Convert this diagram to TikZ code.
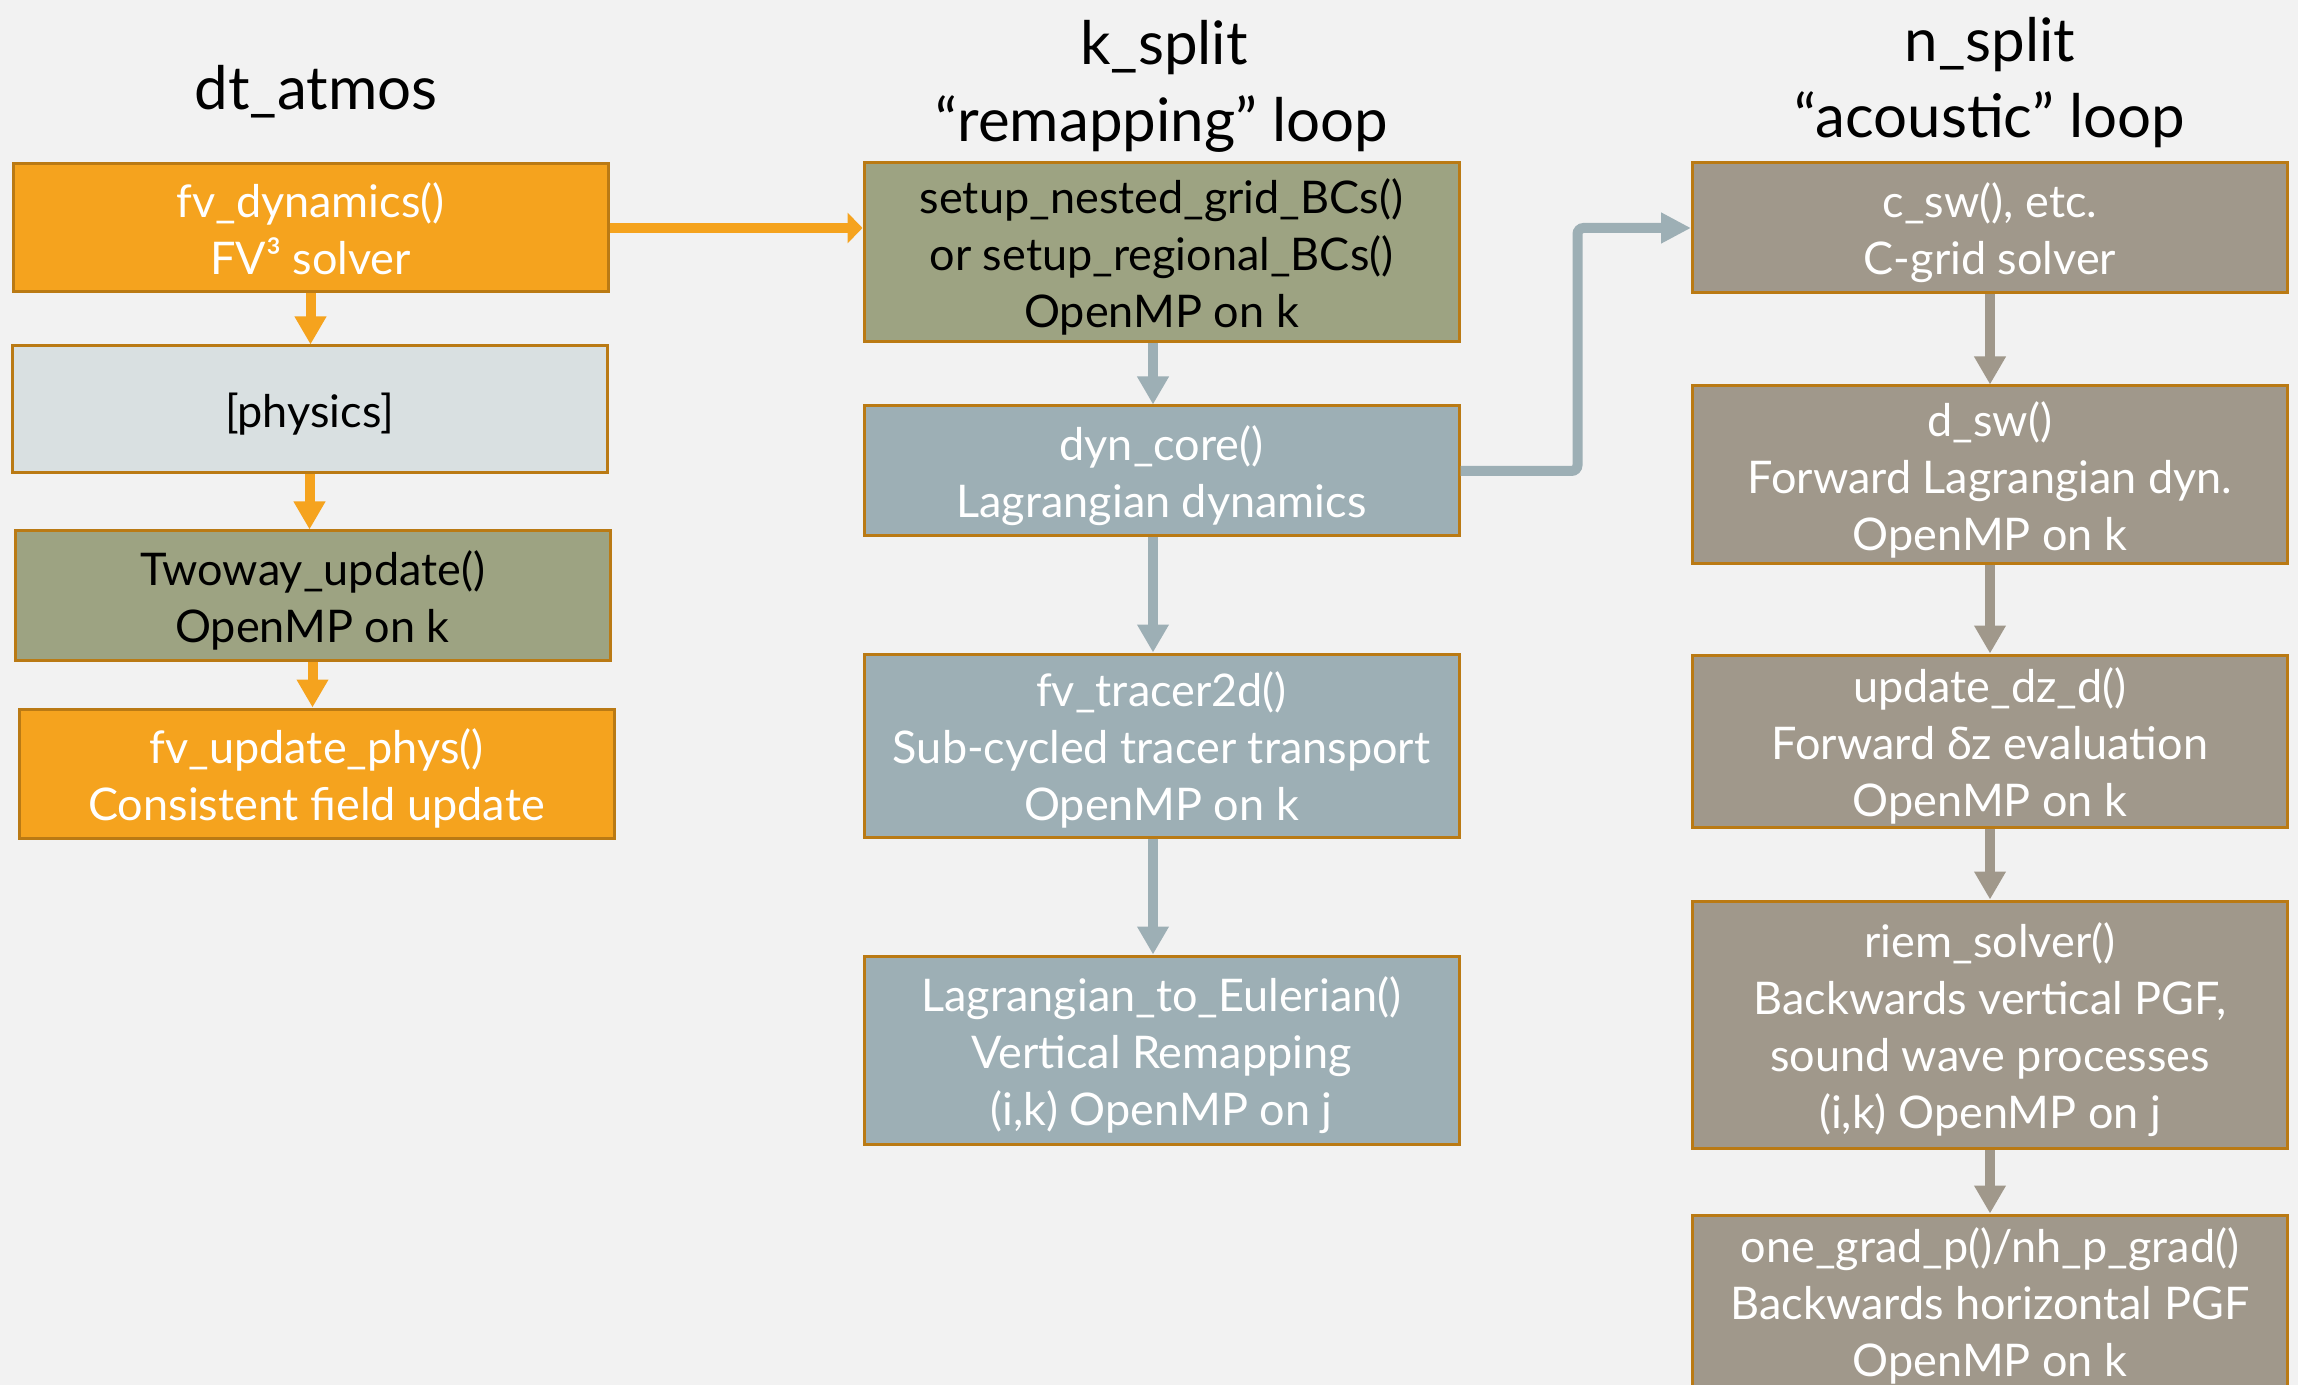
\documentclass[tikz,border=0pt]{standalone}
\usepackage{fontspec}
\setmainfont{Lato}
\usetikzlibrary{arrows.meta}
\definecolor{bg}{HTML}{F2F2F2}
\definecolor{orng}{HTML}{F5A31E}
\definecolor{bord}{HTML}{BA7A14}
\definecolor{phys}{HTML}{D9E0E1}
\definecolor{olive}{HTML}{9DA382}
\definecolor{bgrey}{HTML}{9DAFB5}
\definecolor{taupe}{HTML}{A0988B}
\newcommand\boxtext[1]{\raisebox{-8.5pt}[0pt][0pt]{\begin{tabular}{@{}c@{}}#1\end{tabular}}}
\tikzset{
  box/.style={draw=bord, line width=1.5pt, minimum width=297.5pt, inner sep=0pt,
    font=\fontsize{22.5}{28.5}\selectfont},
  orangebox/.style={box, fill=orng, text=white},
  physbox/.style={box, fill=phys, text=black},
  olivebox/.style={box, fill=olive, text=black},
  greybox/.style={box, fill=bgrey, text=white},
  taupebox/.style={box, fill=taupe, text=white},
  ttl/.style={anchor=base, font=\fontsize{30}{38.5}\selectfont, text=black, inner sep=0pt},
  varrow/.style={line width=5pt, -{Triangle[length=14pt, width=15pt]}},
}
\begin{document}
\begin{tikzpicture}[x=0.5pt, y=-0.5pt]
\useasboundingbox (0,0) rectangle (2298,1385);
\fill[bg] (0,0) rectangle (2298,1385);
\begin{scope}
\clip (0,0) rectangle (2298,1385);
% titles
\node[ttl] (t1) at (316,110) {dt\_atmos};
\node[ttl] (t2a) at (1164,65) {k\_split};
\node[ttl] (t2b) at (1162,142) {“remapping” loop};
\node[ttl] (t3a) at (1990,62) {n\_split};
\node[ttl] (t3b) at (1990,138) {“acoustic” loop};
% left column
\node[orangebox, minimum height=64pt] (B1) at (310.5,228) {\boxtext{fv\_dynamics()\\FV³ solver}};
\node[physbox, minimum height=63.5pt] (B2) at (309.5,409.5) {\boxtext{[physics]}};
\node[olivebox, minimum height=64.5pt] (B3) at (312.5,595.5) {\boxtext{Twoway\_update()\\OpenMP on k}};
\node[orangebox, minimum height=64.5pt] (B4) at (316.5,773.5) {\boxtext{fv\_update\_phys()\\Consistent field update}};
% middle column
\node[olivebox, minimum height=89.5pt] (S) at (1161.5,252.5) {\boxtext{setup\_nested\_grid\_BCs()\\or setup\_regional\_BCs()\\OpenMP on k}};
\node[greybox, minimum height=65pt] (D) at (1161.5,471) {\boxtext{dyn\_core()\\Lagrangian dynamics}};
\node[greybox, minimum height=91.5pt] (T) at (1161.5,745.5) {\boxtext{fv\_tracer2d()\\Sub-cycled tracer transport\\OpenMP on k}};
\node[greybox, minimum height=94pt] (L) at (1161.5,1050) {\boxtext{Lagrangian\_to\_Eulerian()\\Vertical Remapping\\(i,k) OpenMP on j}};
% right column
\node[taupebox, minimum height=65pt] (C) at (1990,228) {\boxtext{c\_sw(), etc.\\C-grid solver}};
\node[taupebox, minimum height=89pt] (Dsw) at (1990,475) {\boxtext{d\_sw()\\Forward Lagrangian dyn.\\OpenMP on k}};
\node[taupebox, minimum height=86pt] (U) at (1990,741) {\boxtext{update\_dz\_d()\\Forward δz evaluation\\OpenMP on k}};
\node[taupebox, minimum height=123.5pt] (R) at (1990,1024.5) {\boxtext{riem\_solver()\\Backwards vertical PGF,\\sound wave processes\\(i,k) OpenMP on j}};
\node[taupebox, minimum height=86pt] (O) at (1990,1301) {\boxtext{one\_grad\_p()/nh\_p\_grad()\\Backwards horizontal PGF\\OpenMP on k}};
% arrows left
\draw[varrow, orng] (B1.south) -- (B1.south |- B2.north);
\draw[varrow, orng] (B2.south) -- (B2.south |- B3.north);
\draw[varrow, orng] (B3.south) -- (B3.south |- B4.north);
\draw[orng, line width=5pt, -{Triangle[length=7.5pt, width=15pt]}] (B1.east) -- (S.west |- B1.east);
% arrows middle
\draw[varrow, bgrey] ([xshift=-4.25pt]S.south) -- ([xshift=-4.25pt]D.north);
\draw[varrow, bgrey] ([xshift=-4.25pt]D.south) -- ([xshift=-4.25pt]T.north);
\draw[varrow, bgrey] ([xshift=-4.25pt]T.south) -- ([xshift=-4.25pt]L.north);
\draw[bgrey, line width=5pt, rounded corners=3pt, -{Triangle[length=15pt, width=14.5pt]}] (D.east) -- ++(117,0) |- (C.west);
% arrows right
\draw[varrow, taupe] (C.south) -- (Dsw.north);
\draw[varrow, taupe] (Dsw.south) -- (U.north);
\draw[varrow, taupe] (U.south) -- (R.north);
\draw[varrow, taupe] (R.south) -- (O.north);
\end{scope}
\end{tikzpicture}
\end{document}
